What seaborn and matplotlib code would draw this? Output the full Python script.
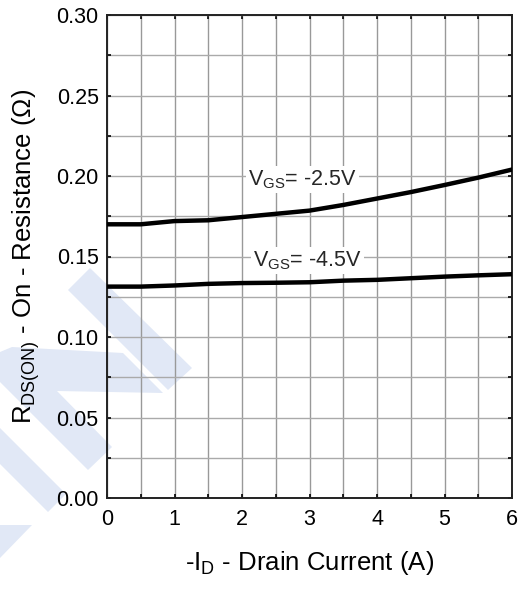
import numpy as np
import pandas as pd
import matplotlib
matplotlib.use("Agg")
import matplotlib.pyplot as plt
from matplotlib.patches import Polygon
from matplotlib.ticker import MultipleLocator
import seaborn as sns

# ---- data ----
drain_current = [0, 0.5, 1, 1.5, 2, 2.5, 3, 3.5, 4, 4.5, 5, 5.5, 6]
rds_vgs_25 = [0.170, 0.170, 0.172, 0.1725, 0.1745, 0.1765, 0.1785, 0.182, 0.186, 0.190, 0.1944, 0.199, 0.204]
rds_vgs_45 = [0.1313, 0.1313, 0.132, 0.133, 0.1335, 0.1337, 0.134, 0.135, 0.1355, 0.1365, 0.1375, 0.1383, 0.139]
series_names = ["VGS=-2.5V", "VGS=-4.5V"]
label_texts = [r"V$_{\mathregular{GS}}$= -2.5V", r"V$_{\mathregular{GS}}$= -4.5V"]
x_ticks = [0, 1, 2, 3, 4, 5, 6]
y_ticks = [0.00, 0.05, 0.10, 0.15, 0.20, 0.25, 0.30]

df = pd.DataFrame({
    "Id": drain_current * 2,
    "Rds": rds_vgs_25 + rds_vgs_45,
    "series": [series_names[0]] * len(drain_current) + [series_names[1]] * len(drain_current),
})

sns.set_theme(style="white")
plt.rcParams["font.family"] = ["Liberation Sans", "DejaVu Sans"]
plt.rcParams["mathtext.fontset"] = "custom"
plt.rcParams["mathtext.rm"] = "Liberation Sans"
plt.rcParams["mathtext.it"] = "Liberation Sans"

W, H = 525, 594
fig = plt.figure(figsize=(W / 100, H / 100), dpi=100)
fig.patch.set_facecolor("white")

# watermark (figure pixel coords)
wm_color = "#e1e8f6"
wm_shapes = [
    [(68, 290), (90, 268), (192, 368), (168, 390)],
    [(0, 352), (12, 347), (123, 353), (163, 393), (57, 391), (112, 447), (88, 470), (0, 382)],
    [(0, 428), (66, 494), (48, 512), (0, 464)],
    [(0, 525), (32, 525), (0, 558)],
]
for shp in wm_shapes:
    pts = [(x / W, 1 - y / H) for x, y in shp]
    fig.patches.append(Polygon(pts, closed=True, facecolor=wm_color, edgecolor="none",
                               transform=fig.transFigure, zorder=-5))

ax = fig.add_axes([107 / W, 1 - 498 / H, (512 - 107) / W, (498 - 15) / H])
ax.patch.set_alpha(0)

sns.lineplot(data=df, x="Id", y="Rds", hue="series", palette=["black", "black"],
             linewidth=3.2, legend=False, ax=ax, zorder=3)

ax.set_xlim(0, 6)
ax.set_ylim(0, 0.30)
ax.set_xticks(x_ticks)
ax.set_yticks(y_ticks)
ax.set_xticklabels([str(t) for t in x_ticks])
ax.set_yticklabels([f"{t:.2f}" for t in y_ticks])
ax.xaxis.set_minor_locator(MultipleLocator(0.5))
ax.yaxis.set_minor_locator(MultipleLocator(0.025))

ax.grid(True, which="both", axis="x", color="#999999", linewidth=1.0)
ax.grid(True, which="both", axis="y", color="#aaaaaa", linewidth=1.0)
ax.set_axisbelow(True)

ax.tick_params(which="both", direction="in", length=3, width=1.2, color="black",
               top=True, right=True, bottom=True, left=True)
ax.tick_params(which="major", labelsize=15.5, labelcolor="black")
ax.tick_params(axis="x", which="major", pad=8)
ax.tick_params(axis="y", which="major", pad=6)

for s in ax.spines.values():
    s.set_visible(True)
    s.set_color("#222222")
    s.set_linewidth(1.4)

ax.set_xlabel(r"-I$_{\mathregular{D}}$ - Drain Current (A)", fontsize=18.5, color="black")
ax.set_ylabel(r"R$_{\mathregular{DS(ON)}}$ - On - Resistance ($\Omega$)", fontsize=18.5, color="black")
ax.xaxis.set_label_coords(0.5, -0.105)
ax.yaxis.set_label_coords(-0.16, 0.5)

ax.text(2.09, 0.1944, label_texts[0], fontsize=15.5, va="baseline", ha="left", zorder=4,
        bbox=dict(facecolor="white", edgecolor="none", pad=1.5))
ax.text(2.16, 0.1437, label_texts[1], fontsize=15.5, va="baseline", ha="left", zorder=4,
        bbox=dict(facecolor="white", edgecolor="none", pad=1.5))

fig.savefig("out.png", dpi=100)
